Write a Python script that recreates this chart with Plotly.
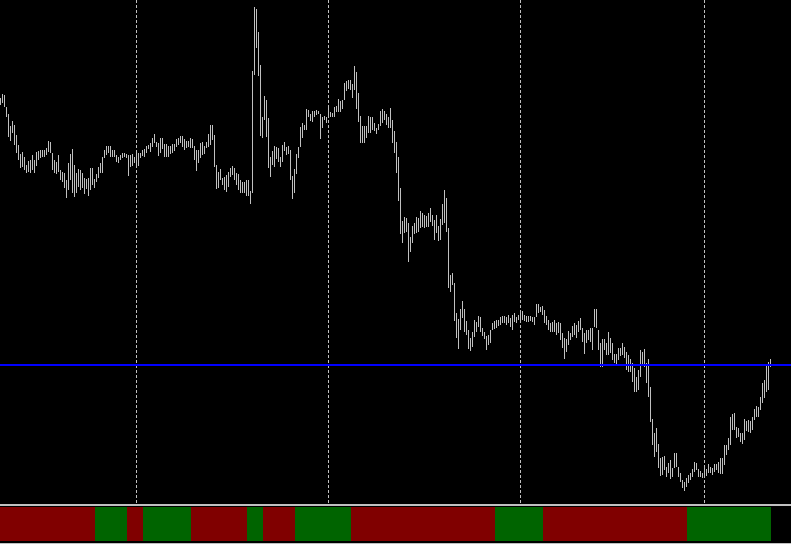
import plotly.graph_objects as go

# price bars (high / low per bar)
highs = [
    402, 406, 405, 393, 386, 374, 379, 375, 365, 355, 346, 348, 343, 335, 339, 340,
    345, 340, 348, 349, 350, 350, 350, 352, 359, 358, 347, 340, 338, 345, 330, 328,
    327, 320, 337, 346, 351, 335, 327, 331, 330, 327, 322, 321, 322, 332, 332, 321,
    326, 333, 337, 343, 350, 354, 354, 354, 350, 350, 345, 343, 345, 347, 347, 346,
    345, 345, 346, 343, 347, 347, 347, 350, 351, 354, 355, 357, 362, 366, 358, 357,
    362, 362, 356, 356, 354, 354, 356, 356, 361, 362, 364, 364, 361, 359, 359, 362,
    361, 354, 350, 350, 357, 358, 354, 358, 366, 375, 375, 365, 335, 328, 331, 322,
    323, 325, 328, 332, 334, 332, 327, 326, 320, 318, 318, 320, 320, 309, 429, 493,
    491, 468, 435, 383, 404, 400, 382, 343, 349, 354, 353, 352, 343, 355, 358, 353,
    354, 350, 324, 331, 346, 353, 373, 377, 375, 391, 390, 386, 389, 389, 390, 389,
    386, 383, 384, 383, 394, 388, 387, 393, 394, 401, 399, 400, 417, 419, 420, 420,
    416, 434, 428, 407, 384, 374, 374, 374, 384, 383, 383, 377, 372, 376, 389, 391,
    389, 386, 383, 392, 380, 369, 358, 343, 312, 279, 283, 282, 277, 263, 274, 277,
    283, 282, 289, 287, 285, 284, 287, 292, 285, 280, 285, 274, 281, 296, 310, 302,
    272, 225, 227, 217, 187, 181, 191, 199, 191, 179, 170, 162, 168, 180, 178, 184,
    183, 172, 168, 164, 165, 170, 177, 179, 180, 180, 183, 184, 184, 183, 185, 182,
    185, 187, 183, 185, 190, 189, 185, 184, 184, 184, 183, 183, 196, 196, 193, 194,
    190, 184, 180, 177, 178, 180, 177, 178, 177, 167, 162, 161, 169, 167, 174, 177,
    175, 179, 182, 172, 167, 170, 170, 172, 172, 191, 191, 170, 157, 161, 161, 157,
    168, 162, 157, 146, 146, 152, 152, 157, 153, 148, 145, 141, 137, 132, 123, 130,
    150, 148, 151, 137, 141, 113, 81, 67, 72, 56, 42, 43, 44, 33, 37, 40,
    32, 47, 47, 33, 27, 20, 18, 22, 25, 27, 31, 38, 37, 31, 29, 27,
    34, 31, 36, 33, 32, 36, 36, 38, 42, 42, 55, 55, 62, 83, 86, 87,
    73, 72, 67, 67, 81, 79, 80, 79, 83, 91, 94, 93, 103, 117, 120, 136,
    138, 141,
]
lows = [
    395, 397, 393, 383, 363, 359, 367, 355, 347, 340, 332, 333, 330, 327, 328, 327,
    330, 327, 334, 340, 342, 343, 343, 345, 348, 347, 330, 327, 326, 328, 320, 318,
    312, 302, 310, 320, 307, 303, 307, 313, 310, 312, 306, 311, 304, 310, 315, 312,
    318, 322, 327, 327, 342, 345, 347, 343, 343, 343, 338, 337, 340, 342, 343, 342,
    324, 333, 334, 337, 332, 334, 342, 344, 343, 347, 351, 348, 353, 357, 353, 344,
    347, 351, 343, 343, 343, 346, 347, 349, 353, 355, 357, 353, 350, 352, 353, 352,
    352, 340, 329, 337, 342, 345, 346, 352, 353, 355, 360, 333, 311, 312, 320, 315,
    310, 308, 313, 323, 325, 320, 315, 310, 307, 307, 307, 304, 304, 296, 307, 425,
    452, 424, 364, 362, 380, 363, 332, 323, 335, 333, 341, 338, 333, 338, 349, 345,
    346, 320, 301, 307, 326, 342, 353, 362, 370, 370, 383, 379, 378, 383, 385, 386,
    361, 372, 380, 377, 383, 383, 383, 383, 388, 388, 388, 391, 400, 409, 411, 410,
    402, 410, 391, 378, 357, 357, 357, 362, 367, 367, 370, 369, 366, 370, 374, 377,
    380, 375, 372, 372, 357, 347, 327, 299, 266, 257, 267, 268, 238, 248, 257, 266,
    267, 268, 272, 273, 272, 273, 273, 278, 274, 260, 267, 259, 260, 275, 277, 268,
    212, 208, 215, 179, 162, 151, 170, 182, 168, 165, 151, 149, 153, 163, 168, 173,
    168, 164, 161, 150, 155, 157, 170, 171, 172, 174, 175, 177, 177, 175, 177, 173,
    170, 178, 177, 180, 178, 180, 179, 178, 178, 179, 178, 175, 183, 187, 188, 185,
    177, 175, 170, 168, 168, 168, 165, 167, 160, 152, 141, 148, 155, 160, 163, 165,
    162, 168, 170, 158, 146, 157, 160, 158, 150, 173, 172, 150, 133, 133, 150, 145,
    145, 147, 140, 137, 135, 140, 144, 145, 142, 130, 128, 128, 118, 108, 108, 110,
    123, 135, 133, 117, 103, 78, 55, 43, 48, 32, 24, 25, 30, 23, 27, 21,
    23, 32, 33, 23, 18, 12, 9, 13, 17, 20, 23, 28, 30, 23, 23, 22,
    23, 24, 27, 27, 25, 28, 30, 27, 26, 26, 35, 45, 50, 55, 70, 70,
    62, 63, 58, 56, 60, 69, 68, 67, 70, 80, 83, 83, 90, 97, 102, 108,
    110, 133,
]

# horizontal level (blue line)
level = 135

# bottom indicator: lengths of alternating down/up runs, starting with down
trend_runs = [48, 16, 8, 24, 28, 8, 16, 28, 72, 24, 72, 42]

# bars where the dotted period separators fall
grid_bars = [68, 164, 260, 352]
tick_bars = [22, 54, 86, 118, 150, 182, 214, 246, 278, 310, 342, 374]

W, H = 791, 544

n = len(highs)
bx, by = [], []
for i in range(n):
    bx += [i, i, None]
    by += [lows[i], highs[i], None]

trend_colors = []
up = False
for run in trend_runs:
    trend_colors += ["#006400" if up else "#800000"] * run
    up = not up

fig = go.Figure()

fig.add_trace(go.Scatter(
    x=bx, y=by, mode="lines",
    line=dict(color="#C0C0C0", width=1),
    hoverinfo="skip", showlegend=False,
))

fig.add_trace(go.Bar(
    x=list(range(len(trend_colors))), y=[1] * len(trend_colors),
    width=1, offset=-0.75,
    marker=dict(color=trend_colors, line=dict(width=0)),
    yaxis="y2", hoverinfo="skip", showlegend=False,
))

shapes = []
for g in grid_bars:
    shapes.append(dict(
        type="line", xref="x", yref="paper",
        x0=g, x1=g, y0=1 - 503 / H, y1=1,
        line=dict(color="#C0C0C0", width=1, dash="3px,2px"),
        layer="below",
    ))

# level line
shapes.append(dict(
    type="line", xref="paper", yref="y",
    x0=0, x1=1, y0=level, y1=level,
    line=dict(color="#0000FF", width=2),
))

# separator between main window and indicator window
shapes.append(dict(
    type="line", xref="paper", yref="paper",
    x0=0, x1=1, y0=1 - 505 / H, y1=1 - 505 / H,
    line=dict(color="#C0C0C0", width=2),
))

fig.update_layout(
    width=W, height=H,
    margin=dict(l=0, r=0, t=0, b=0),
    paper_bgcolor="black", plot_bgcolor="black",
    showlegend=False,
    shapes=shapes,
    bargap=0,
    xaxis=dict(
        range=[-0.25, 395.25], domain=[0, 1],
        anchor="free", position=1 - 542.5 / H,
        showgrid=False, zeroline=False,
        showline=True, linecolor="#C0C0C0", linewidth=1,
        ticks="outside", ticklen=2, tickcolor="#C0C0C0", tickwidth=1,
        tickvals=tick_bars, showticklabels=False,
    ),
    yaxis=dict(
        range=[-3, 500], domain=[1 - 503 / H, 1],
        showgrid=False, zeroline=False, showticklabels=False, ticks="",
    ),
    yaxis2=dict(
        range=[0, 1], domain=[1 - 541 / H, 1 - 507 / H],
        showgrid=False, zeroline=False, showticklabels=False, ticks="",
    ),
)

fig.write_html(
    "out.html",
    config=dict(displayModeBar=False),
    post_script="document.body.style.margin='0';document.body.style.padding='0';"
                "document.body.style.background='black';document.body.style.overflow='hidden';",
)
